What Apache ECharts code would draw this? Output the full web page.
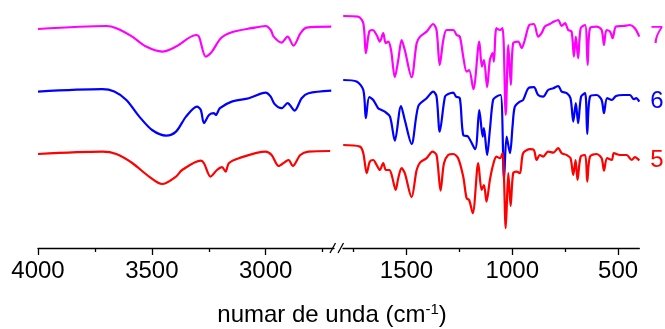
<!DOCTYPE html>
<html>
<head>
<meta charset="utf-8">
<script src="https://cdn.jsdelivr.net/npm/echarts@6/dist/echarts.min.js"></script>
<style>html,body{margin:0;padding:0;background:#fff}#c{width:665px;height:329px}</style>
</head>
<body>
<div id="c"></div>
<script>
// Wavenumber axis ticks (cm-1)
const leftMajor = [4000, 3500, 3000];
const leftMinor = [3750, 3250, 2750];
const rightMajor = [1500, 1000, 500];
const rightMinor = [1750, 1250, 750];
const seriesNames = ['7', '6', '5'];

// Spectrum 7 (offset transmittance, arbitrary units): [wavenumber, value]
const s7High = [[4000,109.5],[3700,111],[3656,109.9],[3586,105.7],[3525,100.7],[3455,98.2],[3394,100.7],[3306,106.5],[3293,105.7],[3263,95.7],[3236,98.2],[3197,104.9],[3149,107.9],[3062,109.9],[3000,111],[2978,109],[2965,105.7],[2930,102.7],[2904,105.7],[2878,101.2],[2847,107.4],[2821,110.2],[2712,110.7]];
const s7Low = [[1799,116],[1729,115.7],[1704,112.4],[1692,97.4],[1676,108.2],[1660,109],[1641,106.5],[1626,103.2],[1610,107.4],[1598,102.4],[1586,103.2],[1573,99],[1555,85.4],[1539,94],[1523,104],[1508,99],[1476,85.4],[1452,102.4],[1436,105.7],[1405,108.2],[1374,112],[1358,109],[1343,91.5],[1326,104],[1310,109],[1279,109],[1263,106.5],[1248,105.7],[1232,95.7],[1216,88.2],[1204,89],[1184,79.4],[1156,103.2],[1144,90.7],[1134,94],[1119,80.4],[1106,94],[1093,97.4],[1087,93.2],[1075,109.9],[1058,109],[1046,109.9],[1031,66.5],[1019,101.5],[1007,81.5],[996,102.4],[972,103.2],[956,99.9],[941,104],[920,111.5],[898,112],[878,105.7],[862,107.4],[846,110.7],[823,112],[803,113.2],[783,114],[767,111],[751,112.4],[736,109],[720,108.2],[709,95.7],[700,105.7],[689,94.9],[677,109.9],[656,111.5],[644,91.5],[633,109.9],[602,110.7],[578,109],[567,101.5],[555,109],[538,108.2],[526,104.9],[510,110.7],[476,111],[444,111.5],[421,109.9],[400,105.7]];

// Spectrum 6
const s6High = [[4000,78.2],[3717,79.4],[3665,78.2],[3612,74],[3555,65.7],[3499,59],[3437,56.2],[3394,58.2],[3350,65.7],[3302,70.7],[3285,69],[3271,62.5],[3249,66.5],[3227,67.4],[3219,66.5],[3201,69.9],[3149,73.2],[3074,74.9],[3000,77.7],[2978,75.7],[2961,72],[2930,69.9],[2904,72.4],[2873,68.7],[2842,74.9],[2812,77.4],[2712,78.7]];
const s6Low = [[1799,84],[1736,83.2],[1704,79],[1692,64.9],[1676,75.4],[1657,74],[1634,69.9],[1618,69],[1603,68.2],[1578,65.7],[1555,53.7],[1526,71],[1508,64],[1476,52],[1444,71],[1405,74.9],[1374,78.2],[1358,75.7],[1343,58.2],[1318,75.7],[1303,77],[1279,77.7],[1266,75.7],[1248,74.9],[1232,56.5],[1209,55.7],[1176,49.4],[1156,69],[1140,55.7],[1134,59.9],[1119,46.5],[1106,59],[1091,74],[1075,75.7],[1055,76.5],[1039,34.4],[1027,55.7],[1011,47.4],[999,60.7],[988,70.7],[964,73.2],[949,74],[924,79.9],[898,80.4],[878,76.5],[854,75.7],[831,79],[806,79.9],[783,81],[767,78.2],[743,77.4],[725,74.9],[712,63.2],[700,72.4],[689,62.4],[675,75.7],[656,77.4],[646,57],[633,75.7],[602,76.5],[578,74],[567,67.4],[552,74.9],[530,74],[510,76],[476,76.5],[444,76.5],[426,74.4],[415,74.9],[400,73.2]];

// Spectrum 5
const s5High = [[4000,47],[3717,48.2],[3656,47],[3586,42.5],[3512,35.7],[3455,32],[3394,35.7],[3367,39],[3285,43.7],[3271,42.4],[3242,35.7],[3214,39],[3192,40.4],[3176,38.2],[3162,42.4],[3118,44.9],[3001,48.2],[2974,46.5],[2943,41],[2913,43.2],[2899,44],[2881,41],[2848,46.5],[2812,48.2],[2717,48.5]];
const s5Low = [[1799,51.5],[1720,50.7],[1704,47.4],[1688,37.4],[1673,43.2],[1657,44],[1641,41.5],[1626,39],[1610,42.4],[1597,39],[1581,39],[1570,36.5],[1551,29],[1539,34.9],[1523,39.9],[1508,37.4],[1476,25.4],[1452,39],[1436,42.7],[1405,44.9],[1377,48.2],[1358,46.5],[1339,28.7],[1323,42.4],[1303,46.5],[1279,47],[1256,44.9],[1232,35.7],[1216,24.9],[1204,24],[1187,17.4],[1161,42.4],[1145,29],[1134,31.5],[1122,23.2],[1106,34],[1091,41.5],[1075,45.7],[1058,44.9],[1046,47.4],[1031,9.9],[1019,37.4],[1008,21],[996,37.4],[980,38.2],[964,37.4],[949,47.4],[916,49.4],[898,49],[885,44],[870,46.5],[854,45.7],[831,48.2],[806,47.7],[783,49.9],[767,47.4],[743,46.5],[725,44.9],[712,36.5],[701,44],[692,34],[677,45.7],[656,46.5],[646,33.2],[633,45.7],[602,47],[578,44.9],[567,38.7],[552,44.9],[530,44],[520,47.4],[491,46.5],[460,46.5],[436,44],[421,45.4],[400,43.7]];

const colors = ['#ff00ff', '#0000ff', '#ff0000'];
const highSets = [s7High, s6High, s5High];
const lowSets = [s7Low, s6Low, s5Low];

const FONT = 'Liberation Sans, Arial, sans-serif';

function majorAxis(grid, min, max, major) {
  return {
    type: 'value', gridIndex: grid, min: min, max: max, inverse: true, position: 'bottom',
    axisLine: {show: true, lineStyle: {color: '#000', width: 1.3}},
    axisTick: {show: true, length: 7, inside: false, customValues: major, lineStyle: {color: '#000', width: 1.3}},
    axisLabel: {show: true, customValues: major, margin: 11, color: '#000', fontSize: 24, fontFamily: FONT,
      formatter: function (v) { return String(v); }},
    splitLine: {show: false}
  };
}
function minorAxis(grid, min, max, minor) {
  return {
    type: 'value', gridIndex: grid, min: min, max: max, inverse: true, position: 'bottom', offset: 0,
    axisLine: {show: false},
    axisTick: {show: true, length: 4, customValues: minor, lineStyle: {color: '#000', width: 1.3}},
    axisLabel: {show: false},
    splitLine: {show: false}
  };
}

const series = [];
for (let i = 0; i < 3; i++) {
  series.push({
    type: 'line', xAxisIndex: 0, yAxisIndex: 0, data: highSets[i], showSymbol: false, smooth: 0.3,
    lineStyle: {color: colors[i], width: 2.2}, silent: true, animation: false
  });
  const last = lowSets[i][lowSets[i].length - 1];
  series.push({
    type: 'line', xAxisIndex: 2, yAxisIndex: 1, data: lowSets[i], showSymbol: false, smooth: 0.3,
    lineStyle: {color: colors[i], width: 2.2}, silent: true, animation: false,
    markPoint: {
      symbol: 'circle', symbolSize: 0, silent: true, animation: false,
      data: [{coord: last}],
      label: {show: true, position: 'right', distance: 11, formatter: seriesNames[i],
        color: colors[i], fontSize: 24, fontFamily: FONT}
    }
  });
}

const chart = echarts.init(document.getElementById('c'), null, {renderer: 'canvas'});
chart.setOption({
  animation: false,
  backgroundColor: '#fff',
  grid: [
    {left: 38, right: 331, top: 8, bottom: 81, containLabel: false},
    {left: 343, right: 25.7, top: 8, bottom: 81, containLabel: false}
  ],
  xAxis: [
    majorAxis(0, 2700, 4000, leftMajor),
    minorAxis(0, 2700, 4000, leftMinor),
    majorAxis(1, 400, 1800, rightMajor),
    minorAxis(1, 400, 1800, rightMinor)
  ],
  yAxis: [
    {type: 'value', gridIndex: 0, min: 0, max: 120, show: false},
    {type: 'value', gridIndex: 1, min: 0, max: 120, show: false}
  ],
  graphic: [
    {type: 'line', shape: {x1: 330, y1: 253, x2: 335.5, y2: 243}, style: {stroke: '#000', lineWidth: 1.3}},
    {type: 'line', shape: {x1: 338, y1: 253, x2: 343.5, y2: 243}, style: {stroke: '#000', lineWidth: 1.3}},
    {type: 'text', x: 332, y: 315, style: {
      text: 'numar de unda (cm{sup|-1})', fill: '#000', font: '24px ' + FONT,
      align: 'center', verticalAlign: 'middle',
      rich: {sup: {fontSize: 15, fontFamily: FONT, fill: '#000', verticalAlign: 'top', padding: [0, 0, 10, 0]}}
    }}
  ],
  series: series
});
</script>
</body>
</html>
